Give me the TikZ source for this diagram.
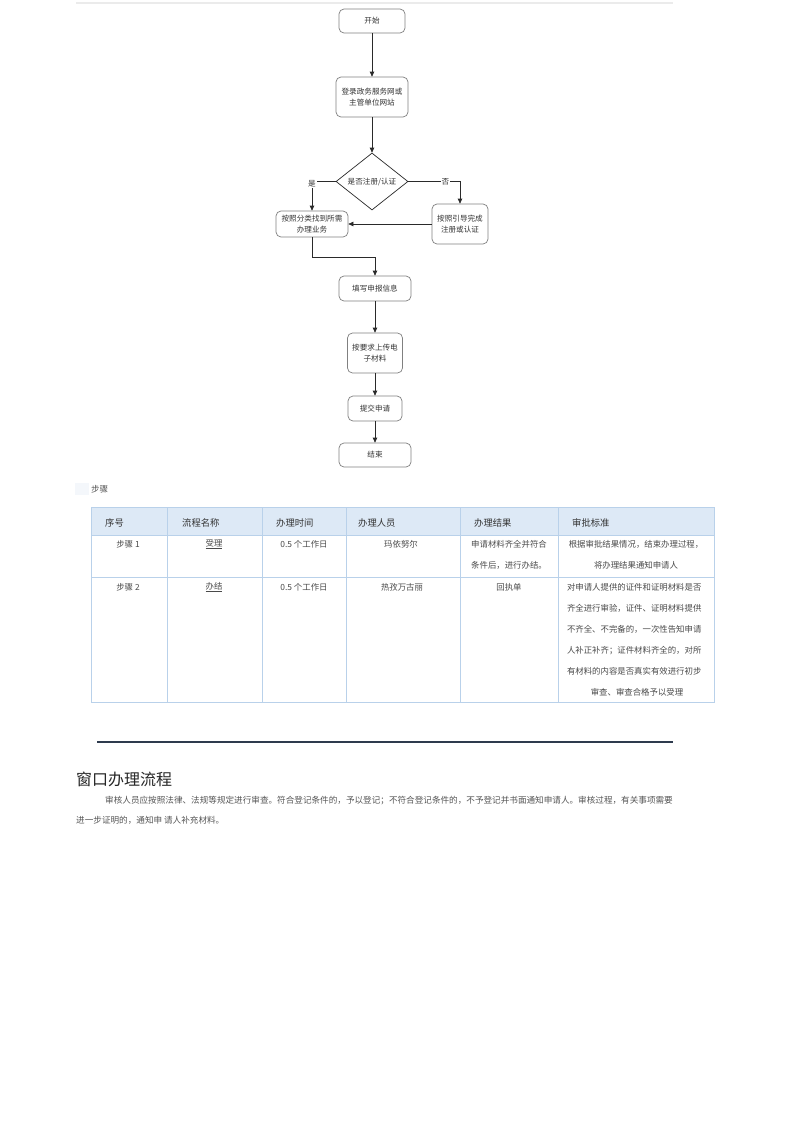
\documentclass[tikz,border=0pt]{standalone}
\usepackage{fontspec}
\setmainfont{Noto Sans CJK SC}
\usetikzlibrary{shapes.geometric,arrows.meta}
\definecolor{boxline}{HTML}{808080}
\definecolor{lineclr}{HTML}{2A2A2A}
\definecolor{txtdark}{HTML}{333333}
\definecolor{txtgray}{HTML}{4A4A4A}
\definecolor{parag}{HTML}{555555}
\definecolor{thfill}{HTML}{DDE9F6}
\definecolor{tborder}{HTML}{B9D1EA}
\definecolor{sepline}{HTML}{2E3B4E}
\definecolor{topline}{HTML}{EBEBEB}
\definecolor{stepbg}{HTML}{F4F7FB}
\begin{document}
\begin{tikzpicture}[x=1pt,y=-1pt,
  fbox/.style={draw=boxline, line width=0.7pt, rounded corners=5pt, align=center,
    inner sep=0pt, font=\fontsize{7.6}{10.5}\selectfont, text=txtdark},
  conn/.style={draw=lineclr, line width=0.7pt, -{Triangle[length=5pt,width=4.5pt]}},
  lbl/.style={fill=white, inner sep=0.8pt, font=\fontsize{7.6}{9}\selectfont, text=txtdark},
  th/.style={anchor=west, inner sep=0pt, font=\fontsize{9.3}{11}\selectfont, text=txtdark},
  td/.style={inner sep=0pt, align=center, font=\fontsize{8.4}{21}\selectfont, text=txtgray},
  tline/.style={draw=tborder, line width=0.9pt},
  ptext/.style={anchor=west, inner sep=0pt, font=\fontsize{8.6}{10}\selectfont, text=parag}
]
\useasboundingbox (0,0) rectangle (793,1122);
\fill[white] (0,0) rectangle (793,1122);

% top rule
\draw[topline, line width=2pt] (76,2.5) -- (673,2.5);

% ---------------- flowchart ----------------
\node[fbox, minimum width=66pt, minimum height=24pt] (start) at (372,21) {开始};
\node[fbox, minimum width=72pt, minimum height=40pt] (login) at (372,97) {登录政务服务网或\\主管单位网站};
\node[draw=lineclr, line width=0.7pt, shape=diamond, inner sep=0pt, minimum width=72pt,
      minimum height=57pt, font=\fontsize{7.6}{9}\selectfont, text=txtdark] (dia) at (372,181.5) {是否注册/认证};
\node[fbox, minimum width=72pt, minimum height=26pt] (cat) at (312,224) {按照分类找到所需\\办理业务};
\node[fbox, minimum width=56pt, minimum height=40pt] (guide) at (460,224) {按照引导完成\\注册或认证};
\node[fbox, minimum width=72pt, minimum height=25pt] (fill) at (375,288.5) {填写申报信息};
\node[fbox, minimum width=55pt, minimum height=40pt] (upload) at (375,353) {按要求上传电\\子材料};
\node[fbox, minimum width=54pt, minimum height=25pt] (submit) at (375,408.5) {提交申请};
\node[fbox, minimum width=72pt, minimum height=24pt] (end) at (375,455) {结束};

\draw[conn] (start.south) -- (login.north);
\draw[conn] (login.south) -- (dia.north);
\draw[conn] (dia.west) -| node[lbl, pos=0.5, yshift=-2pt] {是} (cat.north);
\draw[conn] (dia.east) -| node[lbl, pos=0.36] {否} (guide.north);
\draw[conn] (guide.west) -- (cat.east);
\draw[conn] (cat.south) -- ++(0,20) -| (fill.north);
\draw[conn] (fill.south) -- (upload.north);
\draw[conn] (upload.south) -- (submit.north);
\draw[conn] (submit.south) -- (end.north);

% ---------------- steps label ----------------
\fill[stepbg] (75,483) rectangle (89,495);
\node[anchor=west, inner sep=0pt, font=\fontsize{8.5}{10}\selectfont, text=parag] (steps) at (91,489) {步骤};

% ---------------- table ----------------
\fill[thfill] (91,507) rectangle (714,535);
\draw[tline] (91,507) rectangle (714,702);
\draw[tline] (91,535) -- (714,535);
\draw[tline] (91,577) -- (714,577);
\foreach \cx in {167,262,346,460,558} {\draw[tline] (\cx,507) -- (\cx,702);}

\node[th] (h1) at (105,523) {序号};
\node[th] (h2) at (182,523) {流程名称};
\node[th] (h3) at (276,523) {办理时间};
\node[th] (h4) at (358,523) {办理人员};
\node[th] (h5) at (474,523) {办理结果};
\node[th] (h6) at (572,523) {审批标准};

\node[td] (r1c1) at (128,544) {步骤 1};
\node[td] (r1c2) at (214,544) {\underline{受理}};
\node[td] (r1c3) at (304,544) {0.5 个工作日};
\node[td] (r1c4) at (401,544) {玛依努尔};
\node[td] (r1c5) at (509,554.5) {申请材料齐全并符合\\条件后，进行办结。};
\node[td] (r1c6) at (636,554.5) {根据审批结果情况，结束办理过程，\\将办理结果通知申请人};

\node[td] (r2c1) at (128,587) {步骤 2};
\node[td] (r2c2) at (214,587) {\underline{办结}};
\node[td] (r2c3) at (304,587) {0.5 个工作日};
\node[td] (r2c4) at (402,587) {热孜万古丽};
\node[td] (r2c5) at (509,587) {回执单};
\node[td, text width=140pt, align=left] (r2c6) at (637,639.5)
  {对申请人提供的证件和证明材料是否\\齐全进行审验，证件、证明材料提供\\不齐全、不完备的，一次性告知申请\\人补正补齐；证件材料齐全的，对所\\有材料的内容是否真实有效进行初步\\\hspace*{\fill}审查、审查合格予以受理\hspace*{\fill}};

% ---------------- separator & window section ----------------
\draw[sepline, line width=1.3pt] (97,742) -- (673,742);
\node[anchor=west, inner sep=0pt, font=\fontsize{16}{18}\selectfont, text=black!85] (title) at (76,779) {窗口办理流程};
\node[ptext] (p1) at (105,801) {审核人员应按照法律、法规等规定进行审查。符合登记条件的，予以登记；不符合登记条件的，不予登记并书面通知申请人。审核过程，有关事项需要};
\node[ptext] (p2) at (76,820) {进一步证明的，通知申 请人补充材料。};
\end{tikzpicture}
\end{document}
